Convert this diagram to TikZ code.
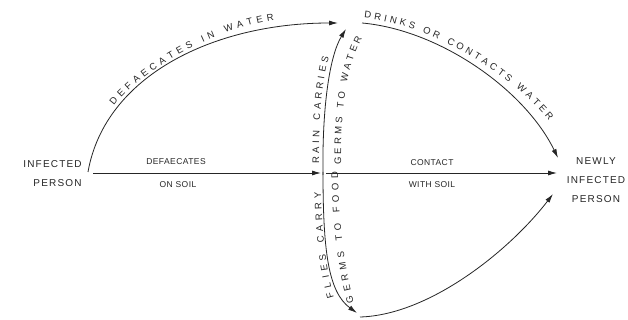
\documentclass[tikz,border=0pt]{standalone}
\usepackage{fontspec}
\setmainfont{Liberation Sans}
\newfontfamily\nodefamily[LetterSpace=12]{Liberation Sans}
\newfontfamily\lblfamily[LetterSpace=5]{Liberation Sans}
\usetikzlibrary{arrows.meta,decorations.text}
\definecolor{ink}{gray}{0.15}
\newcommand\curvefont{\fontsize{9.5}{11}\selectfont}
\tikzset{
  conn/.style={draw=ink, line width=0.8pt, -{Latex[length=9pt,width=5pt]}},
  place/.style={font=\nodefamily\fontsize{10}{19}\selectfont, text=ink, inner sep=0pt},
  lbl/.style={font=\lblfamily\fontsize{8.5}{10}\selectfont, text=ink, inner sep=0pt},
  curvetext/.style={decorate, decoration={text along path, text={|\curvefont|#1}, text align={fit to path}, text color=ink}}
}
\begin{document}
\begin{tikzpicture}[x=1pt,y=-1pt]
\fill[white] (0,0) rectangle (628,320);
\useasboundingbox (0,0) rectangle (628,320);

% places
\node[place, align=right] (ip) at (52.5,173.5) {INFECTED\\PERSON};
\node[place, align=center] (nip) at (596,180) {NEWLY\\INFECTED\\PERSON};

% connector end points
\coordinate (ipA) at (88,172);
\coordinate (ipB) at (93,173);
\coordinate (waterIn) at (338,23);
\coordinate (waterOut) at (362,23);
\coordinate (waterUp) at (346,29);
\coordinate (soilIn) at (321,173);
\coordinate (soilOut) at (326,173);
\coordinate (soilUp) at (323,175);
\coordinate (soilDown) at (323,172);
\coordinate (foodIn) at (357,313);
\coordinate (foodOut) at (360,317);
\coordinate (nipTop) at (558,158);
\coordinate (nipMid) at (557,173);
\coordinate (nipBot) at (553,194);

% connectors
\draw[conn] (ipA) .. controls (105,75) and (215,23) .. (waterIn);
\draw[conn] (ipB) -- (soilIn);
\draw[conn] (soilOut) -- (nipMid);
\draw[conn] (soilUp) .. controls (322,105) and (330,55) .. (waterUp);
\draw[conn] (soilDown) .. controls (323,250) and (328,292) .. (foodIn);
\draw[conn] (waterOut) .. controls (440,30) and (525,90) .. (nipTop);
\draw[conn] (foodOut) .. controls (430,315) and (510,250) .. (nipBot);

% straight labels
\node[lbl] (l1) at (176,162) {DEFAECATES};
\node[lbl] (l2) at (178,185) {ON SOIL};
\node[lbl] (l3) at (432,163) {CONTACT};
\node[lbl] (l4) at (432,185) {WITH SOIL};

% curved labels
\path[curvetext={DEFAECATES IN WATER}] (114,106) .. controls (135,78) and (200,32) .. (274,20);
\path[curvetext={DRINKS OR CONTACTS WATER}] (364,18) .. controls (430,25) and (507,70) .. (549,121);
\path[curvetext={RAIN CARRIES}] (319,164) .. controls (319,120) and (321,85) .. (329,57);
\path[curvetext={GERMS TO WATER}] (341,165) .. controls (341,120) and (343,75) .. (362,38);
\path[curvetext={FLIES CARRY}] (334,297) .. controls (327,275) and (322,235) .. (321,192);
\path[curvetext={GERMS TO FOOD}] (354,302) .. controls (346,275) and (339,230) .. (338,172);
\end{tikzpicture}
\end{document}
